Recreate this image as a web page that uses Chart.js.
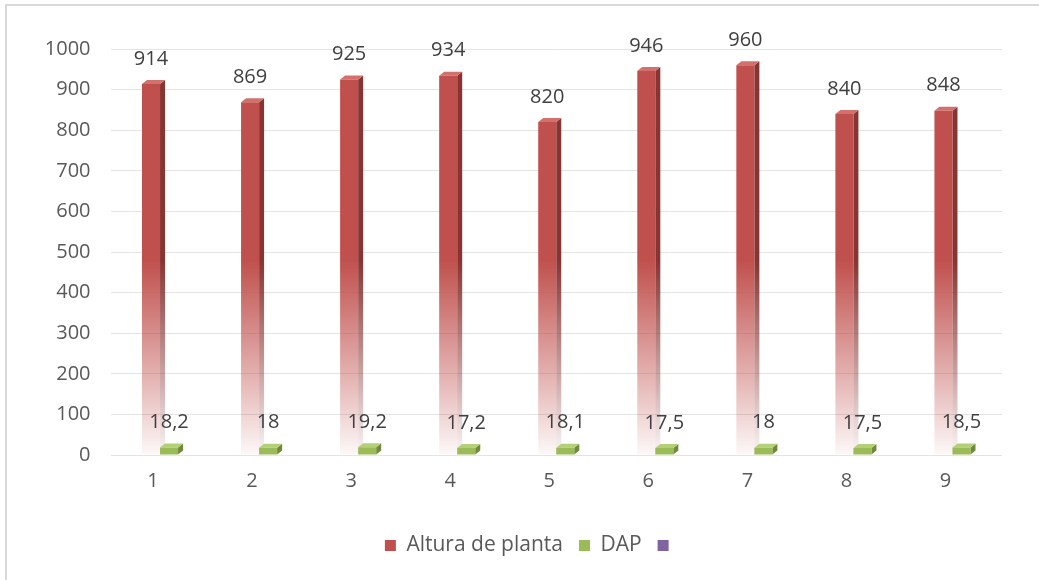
<!DOCTYPE html>
<html>
<head>
<meta charset="utf-8">
<script src="https://cdn.jsdelivr.net/npm/chart.js"></script>
<style>
html,body{margin:0;padding:0;background:#fff}
.frame{position:absolute;left:5px;top:4px;width:1100px;height:640px;border-left:2px solid #d9d9d9;border-top:2px solid #d9d9d9}
.wrap{position:absolute;left:0;top:0;width:1039px;height:580px}
</style>
</head>
<body>
<div class="frame"></div>
<div class="wrap"><canvas id="chart" width="1039" height="580"></canvas></div>
<script>
// ===== DATA =====
const categories=['1','2','3','4','5','6','7','8','9']
const altura=[914,869,925,934,820,946,960,840,848]
const dap=[18.2,18,19.2,17.2,18.1,17.5,18,17.5,18.5]
const yTicks=[0,100,200,300,400,500,600,700,800,900,1000]

const FONT='"Open Sans", sans-serif'
const fmt=v=>String(v).replace('.',',')

// front face gradient (red fades out toward the floor)
function redFront(ctx){
  const ca=ctx.chart.chartArea
  if(!ca) return '#C0504D'
  const g=ctx.chart.ctx.createLinearGradient(0,ca.top,0,ca.bottom)
  g.addColorStop(0,'rgba(192,80,77,1)')
  g.addColorStop(0.52,'rgba(192,80,77,1)')
  g.addColorStop(0.8,'rgba(192,80,77,0.45)')
  g.addColorStop(1,'rgba(192,80,77,0.04)')
  return g
}

// ===== 3D FACES =====
const DX=5, DY=4
const faces={
  id:'faces',
  afterLayout(chart){
    // legend sits a bit right of the canvas centre in the original
    chart.legend.left+=31
    chart.legend.right+=31
  },
  beforeDatasetsDraw(chart){
    const c=chart.ctx, ca=chart.chartArea
    chart.data.datasets.forEach((ds,i)=>{
      if(!ds.side) return
      chart.getDatasetMeta(i).data.forEach(bar=>{
        const l=bar.x-bar.width/2, r=bar.x+bar.width/2, t=bar.y, b=bar.base
        let side=ds.side
        if(ds.fade){
          side=c.createLinearGradient(0,ca.top,0,ca.bottom)
          side.addColorStop(0,'rgba(135,52,50,1)')
          side.addColorStop(0.52,'rgba(135,52,50,1)')
          side.addColorStop(0.8,'rgba(135,52,50,0.45)')
          side.addColorStop(1,'rgba(135,52,50,0.04)')
        }
        c.save()
        c.fillStyle=side
        c.beginPath()
        c.moveTo(r,t);c.lineTo(r+DX,t-DY);c.lineTo(r+DX,b-DY);c.lineTo(r,b);c.closePath()
        c.fill()
        c.fillStyle=ds.top
        c.beginPath()
        c.moveTo(l,t);c.lineTo(l+DX,t-DY);c.lineTo(r+DX,t-DY);c.lineTo(r,t);c.closePath()
        c.fill()
        c.restore()
      })
    })
  },
  afterDatasetsDraw(chart){
    const c=chart.ctx
    c.save()
    c.font='20px '+FONT
    c.fillStyle='#404040'
    c.textAlign='center'
    c.textBaseline='middle'
    chart.data.datasets.forEach((ds,i)=>{
      if(!ds.side) return
      chart.getDatasetMeta(i).data.forEach((bar,j)=>{
        c.fillText(fmt(ds.data[j]),bar.x,bar.y-25)
      })
    })
    c.restore()
  }
}

new Chart(document.getElementById('chart'),{
  type:'bar',
  data:{
    labels:categories,
    datasets:[
      {label:'Altura de planta',data:altura,backgroundColor:redFront,side:'#873432',top:'#D2706C',fade:true,
       barPercentage:1,categoryPercentage:0.364},
      {label:'DAP',data:dap,backgroundColor:'#9BBB59',side:'#6F8A3A',top:'#B3D076',
       barPercentage:1,categoryPercentage:0.364},
      {type:'line',label:'',data:[],backgroundColor:'#8064A2',borderColor:'#8064A2'}
    ]
  },
  plugins:[faces],
  options:{
    responsive:false,
    animation:false,
    layout:{padding:{left:0,right:37,top:49,bottom:14}},
    plugins:{
      tooltip:{enabled:false},
      legend:{
        position:'bottom',
        labels:{
          boxWidth:11,boxHeight:11,padding:16,color:'#595959',
          font:{family:FONT,size:21},
          generateLabels(chart){
            return chart.data.datasets.map((ds,i)=>({
              text:ds.label,
              fillStyle:i===0?'#C0504D':ds.backgroundColor,
              strokeStyle:'rgba(0,0,0,0)',lineWidth:0,
              datasetIndex:i,fontColor:'#595959'
            }))
          }
        }
      }
    },
    scales:{
      x:{
        grid:{display:false},
        border:{display:false},
        ticks:{color:'#595959',font:{family:FONT,size:20},labelOffset:-7,padding:6},
        afterFit(s){s.height=64}
      },
      y:{
        min:0,max:1000,
        afterBuildTicks(s){s.ticks=yTicks.map(v=>({value:v}))},
        grid:{color:'#e4e4e4',drawTicks:false},
        border:{display:false},
        ticks:{color:'#595959',font:{family:FONT,size:20},padding:20,callback:v=>String(v)},
        afterFit(s){s.width=110.5}
      }
    }
  }
})
</script>
</body>
</html>
